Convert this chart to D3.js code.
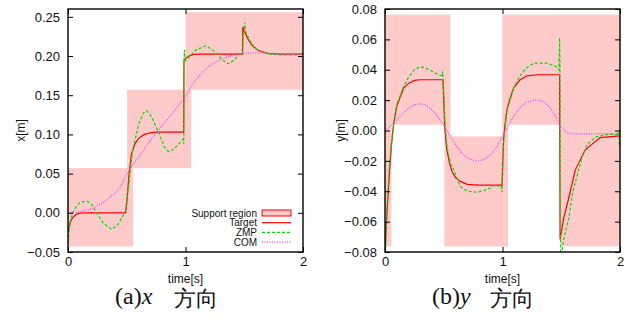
<!DOCTYPE html>
<html><head><meta charset="utf-8">
<script src="https://cdn.jsdelivr.net/npm/d3@7/dist/d3.min.js"></script>
<style>
body{margin:0;background:#fff;}
svg text{font-family:"Liberation Sans",Arial,sans-serif;}
</style></head>
<body><svg id="c" width="636" height="320"></svg>
<script>
// ---------- data: x direction (left panel) ----------
const xTicksX = [0, 1, 2];
const yTicksLeft = [-0.05, 0.00, 0.05, 0.10, 0.15, 0.20, 0.25];
const yTicksRight = [-0.08, -0.06, -0.04, -0.02, 0.00, 0.02, 0.04, 0.06, 0.08];
const legendLabels = ["Support region", "Target", "ZMP", "COM"];

const supX_t0 = [0, 0.503, 1.0];
const supX_t1 = [0.554, 1.048, 2.0];
const supX_lo = [-0.043, 0.057, 0.157];
const supX_hi = [0.057, 0.157, 0.256];

const targetX_t = [0,0.02,0.04,0.07,0.1,0.15,0.49,0.5,0.52,0.54,0.57,0.6,0.65,0.7,0.75,0.985,0.987,1.0,1.03,1.07,1.12,1.485,1.488,1.5,1.53,1.57,1.62,1.7,1.8,2.0];
const targetX_v = [-0.024,-0.012,-0.006,-0.002,-0.0005,0.0,0.0,0.012,0.05,0.075,0.088,0.095,0.1,0.102,0.103,0.103,0.194,0.197,0.2,0.202,0.2025,0.2025,0.237,0.232,0.222,0.213,0.207,0.2035,0.2025,0.2025];

const zmpX_t = [0,0.005,0.02,0.04,0.07,0.1,0.16,0.2,0.245,0.3,0.37,0.42,0.46,0.49,0.52,0.55,0.6,0.64,0.67,0.71,0.77,0.82,0.855,0.9,0.95,0.98,0.985,0.988,0.992,0.995,1.0,1.03,1.08,1.17,1.22,1.27,1.32,1.37,1.42,1.46,1.485,1.49,1.505,1.51,1.54,1.58,1.63,1.7,1.8,1.95,2.0];
const zmpX_v = [-0.038,-0.03,-0.01,0.0,0.008,0.013,0.015,0.011,0.0,-0.013,-0.021,-0.016,-0.006,0.003,0.04,0.08,0.112,0.127,0.13,0.123,0.103,0.084,0.078,0.081,0.089,0.094,0.088,0.2,0.208,0.196,0.194,0.198,0.207,0.213,0.209,0.2025,0.194,0.19,0.196,0.203,0.203,0.225,0.243,0.232,0.222,0.212,0.206,0.203,0.2015,0.2015,0.204];

const comX_t = [0,0.1,0.2,0.3,0.4,0.45,0.5,0.55,0.6,0.7,0.8,0.9,1.0,1.05,1.1,1.2,1.3,1.4,1.5,1.6,1.7,1.8,2.0];
const comX_v = [0.0,0.001,0.005,0.013,0.025,0.034,0.049,0.061,0.071,0.092,0.111,0.129,0.148,0.162,0.172,0.187,0.196,0.201,0.2035,0.204,0.2035,0.2025,0.202];

// ---------- data: y direction (right panel) ----------
const supY_t0 = [0, 0, 0.507, 0.507, 1.0, 1.0, 1.493];
const supY_t1 = [0.054, 0.556, 0.556, 1.047, 1.047, 2.0, 2.0];
const supY_lo = [-0.0763, 0.0038, -0.0763, -0.0763, -0.0763, 0.0038, -0.0763];
const supY_hi = [0.0762, 0.0762, 0.0762, -0.0039, 0.0762, 0.0762, 0.0762];

const targetY_t = [0,0.02,0.04,0.055,0.073,0.1,0.158,0.2,0.25,0.3,0.493,0.5,0.51,0.525,0.545,0.57,0.6,0.64,0.7,0.8,0.996,1.0,1.01,1.02,1.038,1.06,1.095,1.15,1.208,1.3,1.486,1.49,1.52,1.56,1.62,1.705,1.83,2.0];
const targetY_v = [-0.08,-0.05,-0.025,-0.01,0.004,0.016,0.028,0.031,0.033,0.0334,0.0334,0.02,0.0,-0.012,-0.02,-0.027,-0.031,-0.0335,-0.0355,-0.036,-0.036,-0.025,-0.005,0.003,0.0137,0.02,0.028,0.0334,0.036,0.0367,0.0367,-0.0718,-0.058,-0.0456,-0.0259,-0.0127,-0.0047,-0.0035];

const zmpY_t = [0,0.01,0.02,0.04,0.06,0.08,0.1,0.158,0.2,0.25,0.3,0.35,0.4,0.456,0.485,0.49,0.495,0.51,0.53,0.56,0.584,0.64,0.7,0.783,0.868,0.924,0.97,0.99,0.995,1.0,1.01,1.04,1.1,1.15,1.2,1.265,1.38,1.46,1.48,1.486,1.489,1.495,1.51,1.53,1.563,1.6,1.634,1.68,1.72,1.8,1.9,1.98,1.99,1.995,2.0];
const zmpY_v = [-0.09,-0.065,-0.045,-0.02,-0.004,0.008,0.017,0.029,0.035,0.04,0.042,0.041,0.039,0.0367,0.036,0.039,0.033,0.005,-0.012,-0.022,-0.0258,-0.0368,-0.04,-0.0407,-0.039,-0.0363,-0.0365,-0.036,-0.0405,-0.03,-0.006,0.014,0.029,0.036,0.041,0.0444,0.0444,0.042,0.04,0.061,0.04,-0.09,-0.077,-0.068,-0.058,-0.04,-0.03,-0.017,-0.009,-0.004,-0.0025,-0.0025,-0.001,-0.01,-0.006];

const comY_t = [0,0.05,0.1,0.15,0.2,0.25,0.3,0.35,0.4,0.45,0.5,0.55,0.6,0.65,0.7,0.78,0.85,0.9,0.95,1.0,1.05,1.1,1.15,1.2,1.29,1.35,1.4,1.45,1.5,1.55,1.6,1.7,2.0];
const comY_v = [0.0,0.003,0.007,0.011,0.0145,0.017,0.0176,0.0168,0.0135,0.009,0.0035,-0.003,-0.009,-0.0145,-0.018,-0.0203,-0.019,-0.016,-0.011,-0.004,0.003,0.01,0.015,0.0185,0.0203,0.019,0.0155,0.0095,0.002,-0.0015,-0.0022,-0.0022,-0.002];

// ---------- drawing ----------
const svg = d3.select("#c");
const PINK = "#ffcaca", RED = "#ff0000", GREEN = "#00dd00", MAG = "#ff33ff";

function panel(opts){
  const {x0,x1,y0,y1,ydom,yticks,yfmt,sup,series,ylabel,ylabelX,caption,capX,capVar,dirX,legend,id} = opts;
  const xs = d3.scaleLinear().domain([0,2]).range([x0,x1]);
  const ys = d3.scaleLinear().domain(ydom).range([y1,y0]);
  const g = svg.append("g");
  g.append("clipPath").attr("id",id).append("rect")
    .attr("x",x0).attr("y",y0).attr("width",x1-x0).attr("height",y1-y0);
  const pg = g.append("g").attr("clip-path",`url(#${id})`);
  // support regions
  pg.selectAll("rect.sup").data(sup.t0.map((d,i)=>i)).join("rect")
    .attr("x",i=>xs(sup.t0[i])).attr("width",i=>xs(sup.t1[i])-xs(sup.t0[i]))
    .attr("y",i=>ys(sup.hi[i])).attr("height",i=>ys(sup.lo[i])-ys(sup.hi[i]))
    .attr("fill",PINK);
  // lines
  series.forEach(s=>{
    const pts = s.t.map((t,i)=>[t,s.v[i]]);
    pg.append("path").datum(pts)
      .attr("d",d3.line().x(d=>xs(d[0])).y(d=>ys(d[1])))
      .attr("fill","none").attr("stroke",s.color).attr("stroke-width",s.w)
      .attr("stroke-dasharray",s.dash||null);
  });
  // axes (ticks inward, mirrored)
  const tl = 5;
  const axB = g.append("g").attr("transform",`translate(0,${y1})`)
    .call(d3.axisBottom(xs).tickValues(xTicksX).tickFormat(d3.format("d")).tickSize(-tl).tickPadding(5));
  const axT = g.append("g").attr("transform",`translate(0,${y0})`)
    .call(d3.axisTop(xs).tickValues(xTicksX).tickFormat("").tickSize(-tl));
  const axL = g.append("g").attr("transform",`translate(${x0},0)`)
    .call(d3.axisLeft(ys).tickValues(yticks).tickFormat(yfmt).tickSize(-tl).tickPadding(8));
  const axR = g.append("g").attr("transform",`translate(${x1},0)`)
    .call(d3.axisRight(ys).tickValues(yticks).tickFormat("").tickSize(-tl));
  [axB,axT,axL,axR].forEach(a=>{
    a.select(".domain").remove();
    a.selectAll("line").attr("stroke","#000").attr("stroke-width",1);
    a.selectAll("text").attr("font-size",13).attr("fill","#111")
      .attr("font-family","Liberation Sans, Arial, sans-serif");
  });
  g.append("rect").attr("x",x0).attr("y",y0).attr("width",x1-x0).attr("height",y1-y0)
    .attr("fill","none").attr("stroke","#000").attr("stroke-width",1.4);
  // axis titles
  g.append("text").attr("x",(x0+x1)/2).attr("y",283).attr("text-anchor","middle")
    .attr("font-size",12).attr("fill","#111").text("time[s]");
  g.append("text").attr("transform",`translate(${ylabelX},${(y0+y1)/2}) rotate(-90)`)
    .attr("text-anchor","middle").attr("font-size",12).attr("fill","#111").text(ylabel);
  // caption
  const cap = g.append("text").attr("x",capX).attr("y",304).attr("font-size",24).attr("fill","#111");
  cap.append("tspan").attr("font-family","Liberation Serif, DejaVu Serif, serif").text(caption);
  cap.append("tspan").attr("font-family","Liberation Serif, DejaVu Serif, serif").attr("font-style","italic").text(capVar);
  g.append("text").attr("x",dirX).attr("y",306).attr("font-size",22).attr("fill","#111")
    .attr("font-family","Noto Sans CJK JP, sans-serif").text("方向");
  // legend
  if(legend){
    const lx0 = 262, lx1 = 291, ly = 213, dy = 9.7;
    legendLabels.forEach((lab,i)=>{
      const yy = ly + i*dy;
      g.append("text").attr("x",257).attr("y",yy+3.5).attr("text-anchor","end")
        .attr("font-size",10).attr("fill","#111").text(lab);
      if(i===0){
        g.append("rect").attr("x",lx0).attr("y",yy-3).attr("width",lx1-lx0).attr("height",6)
          .attr("fill",PINK).attr("stroke",RED).attr("stroke-width",1);
      } else {
        const s = series[i-1];
        g.append("line").attr("x1",lx0).attr("x2",lx1).attr("y1",yy).attr("y2",yy)
          .attr("stroke",s.color).attr("stroke-width",s.w).attr("stroke-dasharray",s.dash||null);
      }
    });
  }
}

panel({
  id:"clipL", x0:68, x1:303, y0:9, y1:252, ydom:[-0.05,0.26], yticks:yTicksLeft,
  yfmt:d3.format(".2f"),
  sup:{t0:supX_t0,t1:supX_t1,lo:supX_lo,hi:supX_hi},
  series:[
    {t:targetX_t,v:targetX_v,color:RED,w:1.2},
    {t:zmpX_t,v:zmpX_v,color:GREEN,w:1.2,dash:"3,2"},
    {t:comX_t,v:comX_v,color:MAG,w:1.2,dash:"1,1.5"}
  ],
  ylabel:"x[m]", ylabelX:25, caption:"(a)", capVar:"x", capX:115, dirX:174, legend:true
});
panel({
  id:"clipR", x0:385, x1:620, y0:9, y1:252, ydom:[-0.08,0.08], yticks:yTicksRight,
  yfmt:d3.format(".2f"),
  sup:{t0:supY_t0,t1:supY_t1,lo:supY_lo,hi:supY_hi},
  series:[
    {t:targetY_t,v:targetY_v,color:RED,w:1.2},
    {t:zmpY_t,v:zmpY_v,color:GREEN,w:1.2,dash:"3,2"},
    {t:comY_t,v:comY_v,color:MAG,w:1.2,dash:"1,1.5"}
  ],
  ylabel:"y[m]", ylabelX:345, caption:"(b)", capVar:"y", capX:432, dirX:490, legend:false
});
</script></body></html>
